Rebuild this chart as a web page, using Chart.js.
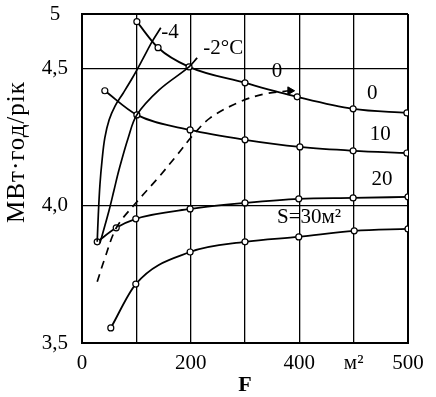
<!DOCTYPE html>
<html>
<head>
<meta charset="utf-8">
<script src="https://cdn.jsdelivr.net/npm/chart.js@4/dist/chart.umd.min.js"></script>
<style>
  html, body { margin: 0; padding: 0; background: #fff; }
  canvas { display: block; }
</style>
</head>
<body>
<canvas id="chart" width="436" height="397"></canvas>
<script>
// axis ticks (the x axis of the original is drawn on an even grid)
const xTickLabels = ['0', '', '200', '', '400', 'м²', '500'];
const yTickValues = [3.5, 4.0, 4.5, 4.7];
const yTickLabels = ['3,5', '4,0', '4,5', '5'];

// S = const curves (grid position of F, МВт·год/рік)
const s0X  = [1.01, 1.40, 1.97, 3.00, 3.96, 4.99, 5.98];
const s0Y  = [4.672, 4.577, 4.507, 4.449, 4.398, 4.354, 4.339];
const s10X = [0.42, 1.01, 1.99, 3.00, 4.01, 4.99, 5.98];
const s10Y = [4.420, 4.332, 4.277, 4.241, 4.215, 4.201, 4.193];
const s20X = [0.28, 0.63, 0.99, 1.99, 3.00, 3.99, 4.99, 6.00];
const s20Y = [3.869, 3.920, 3.953, 3.989, 4.011, 4.026, 4.029, 4.033];
const s30X = [0.53, 0.99, 1.99, 3.00, 3.99, 5.01, 6.00];
const s30Y = [3.555, 3.715, 3.832, 3.869, 3.887, 3.909, 3.916];

// temperature curves
const tm4X = [0.28, 0.30, 0.33, 0.37, 0.42, 0.50, 0.61, 0.76, 0.94, 1.12, 1.29, 1.45];
const tm4Y = [3.869, 3.967, 4.077, 4.168, 4.248, 4.314, 4.365, 4.412, 4.471, 4.536, 4.599, 4.650];
const tm2X = [0.33, 0.41, 0.50, 0.59, 0.68, 0.85, 1.01, 1.42, 1.97, 2.12];
const tm2Y = [3.865, 3.920, 3.985, 4.058, 4.131, 4.248, 4.332, 4.423, 4.507, 4.540];
const t0X  = [0.28, 0.41, 0.64, 1.01, 1.40, 1.75, 2.03, 2.36, 2.91, 3.37, 3.83];
const t0Y  = [3.723, 3.803, 3.923, 4.015, 4.102, 4.186, 4.255, 4.321, 4.380, 4.409, 4.420];

const curveLabels = [
  { text: '-4',     x: 1.62, y: 4.631 },
  { text: '-2°C',   x: 2.60, y: 4.573 },
  { text: '0',      x: 3.59, y: 4.489 },
  { text: '0',      x: 5.34, y: 4.409 },
  { text: '10',     x: 5.49, y: 4.259 },
  { text: '20',     x: 5.52, y: 4.095 },
  { text: 'S=30м²', x: 4.18, y: 3.956 }
];

const SERIF = '"Liberation Serif", "Times New Roman", serif';

function pts(xs, ys) {
  return xs.map((x, i) => ({ x, y: ys[i] }));
}

function tempCurve(xs, ys, dashed) {
  const n = xs.length;
  return {
    data: pts(xs, ys),
    borderColor: '#000',
    borderWidth: 1.7,
    borderDash: dashed ? [8, 6] : [],
    tension: 0.35,
    pointRadius: ctx => (dashed && ctx.dataIndex === n - 1 ? 4.5 : 0),
    pointStyle: 'triangle',
    pointRotation: 90,
    pointBackgroundColor: '#000',
    pointBorderColor: '#000',
    pointBorderWidth: 1
  };
}

function sCurve(xs, ys) {
  return {
    data: pts(xs, ys),
    borderColor: '#000',
    borderWidth: 1.8,
    cubicInterpolationMode: 'monotone',
    pointRadius: 3,
    pointBackgroundColor: '#fff',
    pointBorderColor: '#000',
    pointBorderWidth: 1.2
  };
}

const labelPlugin = {
  id: 'curveLabels',
  afterDatasetsDraw(chart) {
    const { ctx, scales: { x, y } } = chart;
    ctx.save();
    ctx.fillStyle = '#000';
    ctx.font = '21px ' + SERIF;
    ctx.textAlign = 'center';
    ctx.textBaseline = 'middle';
    curveLabels.forEach(l => {
      ctx.fillText(l.text, x.getPixelForValue(l.x), y.getPixelForValue(l.y));
    });
    // y axis title
    ctx.translate(17, 152);
    ctx.rotate(-Math.PI / 2);
    ctx.font = '25px ' + SERIF;
    ctx.letterSpacing = '1px';
    ctx.fillText('МВт·год/рік', 0, 0);
    ctx.restore();
  }
};

new Chart(document.getElementById('chart'), {
  type: 'line',
  data: {
    datasets: [
      tempCurve(tm4X, tm4Y, false),
      tempCurve(tm2X, tm2Y, false),
      tempCurve(t0X, t0Y, true),
      sCurve(s0X, s0Y),
      sCurve(s10X, s10Y),
      sCurve(s20X, s20Y),
      sCurve(s30X, s30Y)
    ]
  },
  options: {
    responsive: false,
    animation: false,
    layout: { padding: { top: 14, right: 28, left: 0, bottom: 0 } },
    plugins: { legend: { display: false }, tooltip: { enabled: false } },
    scales: {
      x: {
        type: 'linear',
        min: 0,
        max: 6,
        afterFit: s => { s.height = 54; s.paddingLeft = 0; s.paddingRight = 0; },
        ticks: {
          stepSize: 1,
          padding: 8,
          color: '#000',
          font: { family: SERIF, size: 21 },
          callback: v => xTickLabels[v] ?? ''
        },
        grid: {
          color: '#000',
          drawTicks: false,
          lineWidth: c => (c.index === 0 || c.index === 6 ? 2 : 1.3)
        },
        border: { color: '#000', width: 2 },
        title: {
          display: true,
          text: 'F',
          color: '#000',
          padding: 0,
          font: { family: SERIF, size: 22, weight: 'bold', lineHeight: 1.1 }
        }
      },
      y: {
        type: 'linear',
        min: 3.5,
        max: 4.7,
        afterFit: s => { s.width = 82; s.paddingTop = 0; s.paddingBottom = 0; },
        afterBuildTicks: s => { s.ticks = yTickValues.map(v => ({ value: v })); },
        ticks: {
          padding: 14,
          crossAlign: 'center',
          color: '#000',
          font: { family: SERIF, size: 21 },
          callback: (v, i) => yTickLabels[i]
        },
        grid: {
          color: '#000',
          drawTicks: false,
          lineWidth: c => (c.index === 0 || c.index === yTickValues.length - 1 ? 2 : 1.3)
        },
        border: { color: '#000', width: 2 }
      }
    }
  },
  plugins: [labelPlugin]
});
</script>
</body>
</html>
